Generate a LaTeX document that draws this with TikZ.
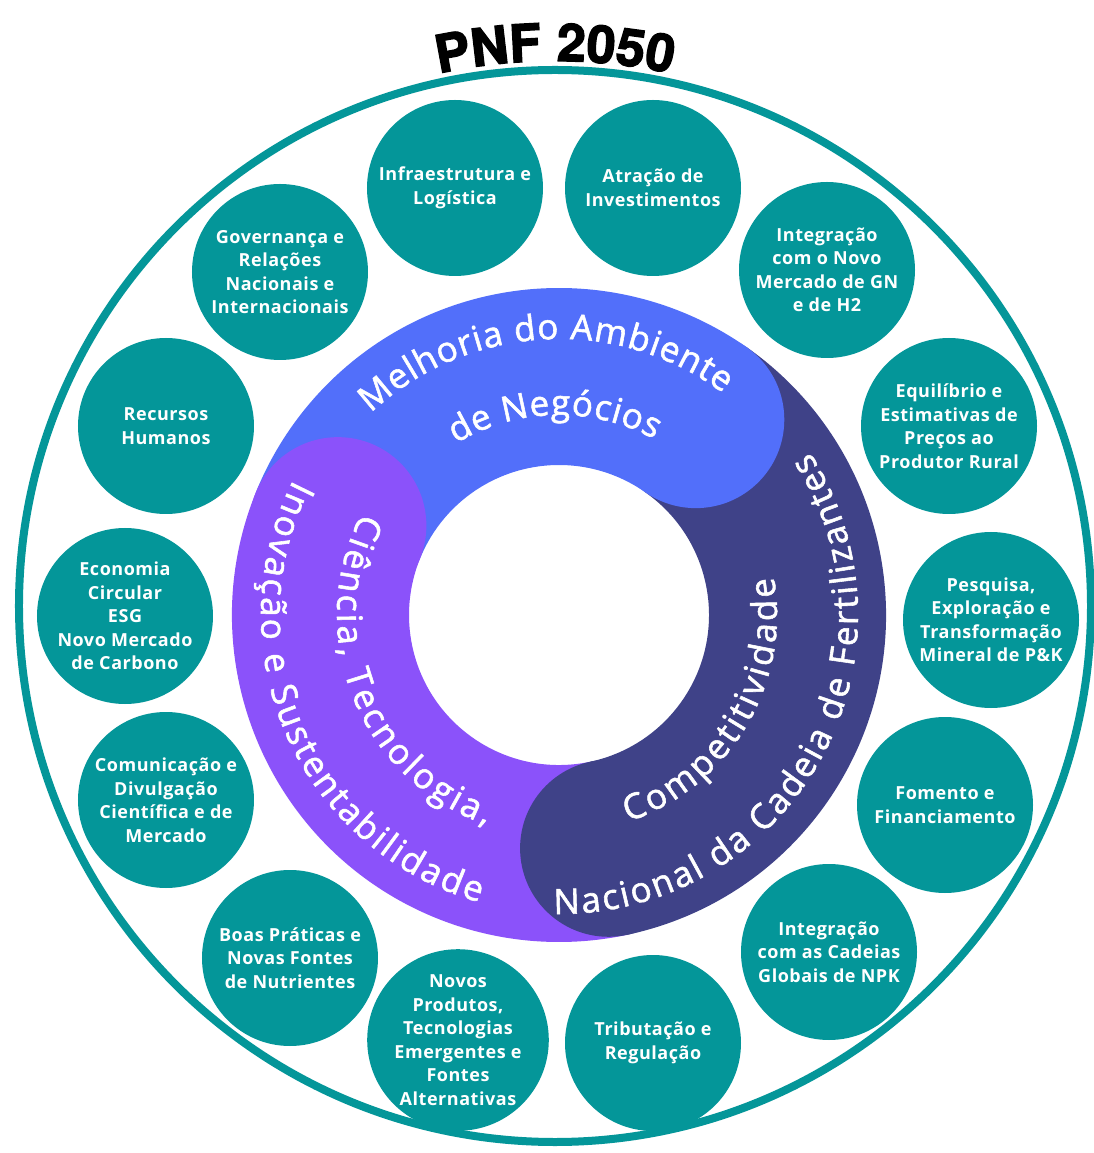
\documentclass[tikz,border=0pt]{standalone}
\usepackage{fontspec}
\usepackage{tikz}
\usetikzlibrary{decorations.text}
\newfontfamily\bubblefont{Open Sans}[LetterSpace=3]
\newfontfamily\ringfont{Open Sans}[FakeBold=1.6]
\newfontfamily\titlefont{TeX Gyre Heros}[FakeBold=2.5]
\definecolor{pnfteal}{RGB}{4,150,153}
\definecolor{pnfblue}{RGB}{82,111,250}
\definecolor{pnfnavy}{RGB}{63,66,136}
\definecolor{pnfpurple}{RGB}{139,82,250}

\begin{document}
\begin{tikzpicture}[x=1pt,y=1pt,
    bubble/.style={circle,fill=pnfteal,minimum size=176pt,inner sep=0pt,text=white,align=center,
        font=\bubblefont\bfseries\fontsize{18}{23.5}\selectfont},
    ringtext/.style={decorate,decoration={text along path,text align={fit to path},
        text={|\ringfont\fontsize{35}{40}\selectfont\color{white}|#1}}}]
    \useasboundingbox (-559,-538) rectangle (534,615);
    \draw[pnfteal,line width=8pt] (-4,9) circle[radius=536];

    \path (-104,427) node(infra)[bubble] {Infraestrutura e\\Logística};
    \path (94,427) node(atracao)[bubble] {Atração de\\Investimentos};
    \path (268,345) node(gnh2)[bubble] {Integração\\com o Novo\\Mercado de GN\\e de H2};
    \path (390,189) node(precos)[bubble] {Equilíbrio e\\Estimativas de\\Preços ao\\Produtor Rural};
    \path (432,-5) node(mineral)[bubble] {Pesquisa,\\Exploração e\\Transformação\\Mineral de P\&K};
    \path (386,-190) node(fomento)[bubble] {Fomento e\\Financiamento};
    \path (270,-337) node(npk)[bubble] {Integração\\com as Cadeias\\Globais de NPK};
    \path (94,-428) node(tributos)[bubble] {Tributação e\\Regulação};
    \path (-101,-425) node(novos)[bubble] {Novos\\Produtos,\\Tecnologias\\Emergentes e\\Fontes\\Alternativas};
    \path (-269,-343) node(boas)[bubble] {Boas Práticas e\\Novas Fontes\\de Nutrientes};
    \path (-393,-185) node(comunica)[bubble] {Comunicação e\\Divulgação\\Científica e de\\Mercado};
    \path (-434,-1) node(economia)[bubble] {Economia\\Circular\\ESG\\Novo Mercado\\de Carbono};
    \path (-393,189) node(rh)[bubble] {Recursos\\Humanos};
    \path (-279,343) node(governanca)[bubble] {Governança e\\Relações\\Nacionais e\\Internacionais};

    \fill[pnfblue] (55:327) arc[start angle=55,end angle=158,radius=327] -- (158:150) arc[start angle=158,end angle=55,radius=150] -- cycle;
    \fill[pnfnavy] (-78:327) arc[start angle=-78,end angle=55,radius=327] -- (55:150) arc[start angle=55,end angle=-78,radius=150] -- cycle;
    \fill[pnfpurple] (158:327) arc[start angle=158,end angle=282,radius=327] -- (282:150) arc[start angle=282,end angle=158,radius=150] -- cycle;
    \fill[pnfblue] (55:238.5) circle[radius=88.5];
    \fill[pnfnavy] (-78:238.5) circle[radius=88.5];
    \fill[pnfpurple] (158:238.5) circle[radius=88.5];

    \path[ringtext={Melhoria do Ambiente}] (133:276) arc[start angle=133,end angle=53.5,radius=276];
    \path[ringtext={de Negócios}] (121:200) arc[start angle=121,end angle=61.5,radius=200];
    \path[ringtext={Ciência, Tecnologia,}] (152.6:222) arc[start angle=152.6,end angle=251,radius=222];
    \path[ringtext={Inovação e Sustentabilidade}] (153:298) arc[start angle=153,end angle=254.5,radius=298];
    \path[ringtext={Competitividade}] (-71.5:218) arc[start angle=-71.5,end angle=10,radius=218];
    \path[ringtext={Nacional da Cadeia de Fertilizantes}] (-91:299) arc[start angle=-91,end angle=33,radius=299];

    \path[shift={(-4,9)},decorate,decoration={text along path,text align=center,
        text={|\titlefont\bfseries\fontsize{52}{60}\selectfont|PNF 2050}}]
        (110:545) arc[start angle=110,end angle=70,radius=545];
\end{tikzpicture}
\end{document}
